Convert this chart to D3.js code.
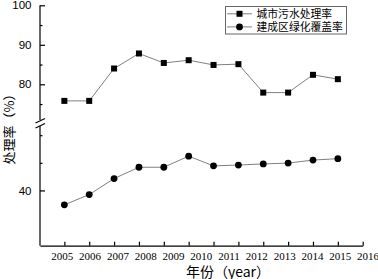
<!DOCTYPE html>
<html>
<head>
<meta charset="utf-8">
<script src="https://cdn.jsdelivr.net/npm/d3@7"></script>
<style>
  body { margin: 0; background: #fff; }
  svg { display: block; }
</style>
</head>
<body>
<svg></svg>
<script>
const width = 378;
const height = 279;

// DATA
const yearLabels = [2005, 2006, 2007, 2008, 2009, 2010, 2011, 2012, 2013, 2014, 2015, 2016];
const sewageRate = [75.8, 75.8, 84.0, 87.8, 85.4, 86.1, 84.9, 85.1, 77.9, 77.9, 82.4, 81.3];
const greenRate = [34.8, 38.5, 44.3, 48.4, 48.4, 52.4, 48.9, 49.2, 49.6, 49.9, 51.0, 51.5];
const seriesNames = ['城市污水处理率', '建成区绿化覆盖率'];
const upperMajor = [80, 90, 100];
const upperMinor = [75, 85, 95];
const lowerMajor = [40];
const lowerMinor = [50, 60];

const lineColor = '#808080';
const axisFont = '"Liberation Sans", Arial, sans-serif';
const serifFont = '"Liberation Serif", "Times New Roman", serif';
const cjkFont = '"Noto Sans CJK SC", sans-serif';

// SCALES
// tick slots along x (13 slots, points sit on the first 12)
const xScale = d3.scaleLinear().domain([-0.98, 12]).range([40, 362.7]);
// year labels are spread a bit wider than the tick slots in the original
const labelScale = d3.scaleLinear().domain([2005, 2016]).range([62.3, 368]);
const yUpper = d3.scaleLinear().domain([70, 100]).range([123.8, 5.3]);
const yLower = d3.scaleLinear().domain([20, 60]).range([245.7, 135.2]);

const svg = d3.select('svg')
    .attr('width', width)
    .attr('height', height);

// X AXIS
const xAxis = d3.axisBottom(xScale)
    .tickValues(d3.range(13))
    .tickSize(-4)
    .tickSizeOuter(0)
    .tickFormat('');

svg.append('g')
    .attr('transform', `translate(0, ${yLower(20)})`)
    .call(xAxis)
    .call(g => g.selectAll('path, line').attr('stroke', '#000').attr('stroke-width', 1.2));

svg.append('g')
    .selectAll('text')
    .data(yearLabels)
    .enter()
    .append('text')
        .attr('x', d => labelScale(d))
        .attr('y', 260)
        .attr('text-anchor', 'middle')
        .style('font-family', serifFont)
        .style('font-size', '11px')
        .text(d => d);

// Y AXIS (broken)
function leftTicks(scale, values, size, labels) {
    const ax = d3.axisLeft(scale)
        .tickValues(values)
        .tickSize(-size)
        .tickPadding(8.5)
        .tickFormat(labels ? d3.format('d') : '');
    svg.append('g')
        .attr('transform', 'translate(40, 0)')
        .call(ax)
        .call(g => g.select('.domain').remove())
        .call(g => g.selectAll('line').attr('stroke', '#000').attr('stroke-width', 1.2))
        .call(g => g.selectAll('text')
            .style('font-family', axisFont)
            .style('font-size', '11.5px')
            .attr('fill', '#000'));
}
leftTicks(yUpper, upperMajor, 5, true);
leftTicks(yUpper, upperMinor, 2.5, false);
leftTicks(yLower, lowerMajor, 5, true);
leftTicks(yLower, lowerMinor, 2.5, false);

svg.append('line')
    .attr('x1', 40).attr('x2', 40)
    .attr('y1', yUpper(100)).attr('y2', 120)
    .attr('stroke', '#000').attr('stroke-width', 1.2);
svg.append('line')
    .attr('x1', 40).attr('x2', 40)
    .attr('y1', 126).attr('y2', yLower(20))
    .attr('stroke', '#000').attr('stroke-width', 1.2);

// break marks
[[35.5, 123, 45, 118.5], [35.5, 128, 45, 123.5]].forEach(b => {
    svg.append('line')
        .attr('x1', b[0]).attr('y1', b[1])
        .attr('x2', b[2]).attr('y2', b[3])
        .attr('stroke', '#000').attr('stroke-width', 1.1);
});

// AXIS TITLES
svg.append('text')
    .attr('transform', 'translate(9, 126) rotate(-90)')
    .attr('text-anchor', 'middle')
    .attr('dy', '0.35em')
    .style('font-family', cjkFont)
    .style('font-size', '13px')
    .text('处理率（%）');

svg.append('text')
    .attr('x', 228)
    .attr('y', 276.5)
    .attr('text-anchor', 'middle')
    .style('font-family', cjkFont)
    .style('font-size', '14px')
    .text('年份（year）');

// LINES & MARKERS
const upperLine = d3.line()
    .x((d, i) => xScale(i))
    .y(d => yUpper(d));
const lowerLine = d3.line()
    .x((d, i) => xScale(i))
    .y(d => yLower(d));

svg.append('path')
    .attr('d', upperLine(sewageRate))
    .attr('fill', 'none')
    .attr('stroke', lineColor)
    .attr('stroke-width', 1);

svg.append('path')
    .attr('d', lowerLine(greenRate))
    .attr('fill', 'none')
    .attr('stroke', lineColor)
    .attr('stroke-width', 1);

svg.selectAll('rect.sq')
    .data(sewageRate)
    .enter()
    .append('rect')
        .attr('class', 'sq')
        .attr('x', (d, i) => xScale(i) - 3)
        .attr('y', d => yUpper(d) - 3)
        .attr('width', 6)
        .attr('height', 6)
        .attr('fill', '#000');

svg.selectAll('circle.dot')
    .data(greenRate)
    .enter()
    .append('circle')
        .attr('class', 'dot')
        .attr('cx', (d, i) => xScale(i))
        .attr('cy', d => yLower(d))
        .attr('r', 3.4)
        .attr('fill', '#000');

// LEGEND
const legend = svg.append('g');
legend.append('rect')
    .attr('x', 225.5).attr('y', 6.5)
    .attr('width', 121).attr('height', 27.5)
    .attr('fill', '#fff')
    .attr('stroke', '#666')
    .attr('stroke-width', 1);

const rowY = [13.8, 26.9];
seriesNames.forEach((name, i) => {
    legend.append('line')
        .attr('x1', 227).attr('x2', 252)
        .attr('y1', rowY[i]).attr('y2', rowY[i])
        .attr('stroke', lineColor)
        .attr('stroke-width', 1);
    if (i === 0) {
        legend.append('rect')
            .attr('x', 236.5).attr('y', rowY[i] - 3)
            .attr('width', 6).attr('height', 6)
            .attr('fill', '#000');
    } else {
        legend.append('circle')
            .attr('cx', 239.5).attr('cy', rowY[i])
            .attr('r', 3.4)
            .attr('fill', '#000');
    }
    legend.append('text')
        .attr('x', 256.5)
        .attr('y', rowY[i])
        .attr('dy', '0.36em')
        .style('font-family', cjkFont)
        .style('font-size', '10.8px')
        .text(name);
});
</script>
</body>
</html>
